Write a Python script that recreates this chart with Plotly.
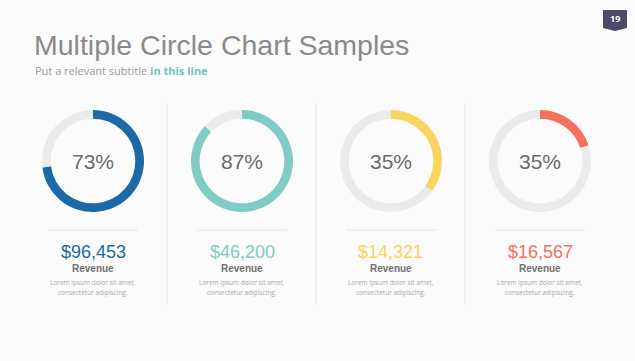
import plotly.graph_objects as go

# Data
labels_pct = ["73%", "87%", "35%", "35%"]
arc_values = [73, 87, 35, 20]
revenues = ["$96,453", "$46,200", "$14,321", "$16,567"]
sub_label = "Revenue"
lorem_lines = ["Lorem ipsum dolor sit amet,", "consectetur adipiscing."]
colors = ["#1b69a6", "#80cbc4", "#f9d45e", "#f3705f"]
track_color = "#ebebeb"

W, H = 635, 361
centers_x = [93, 242, 391, 540]
center_y = 161
R = 51


def A(x, y, text, font, xanchor="center"):
    return dict(x=x / W, y=1 - y / H, xref="paper", yref="paper", text=text,
                showarrow=False, xanchor=xanchor, yanchor="middle", font=font,
                borderpad=0)


fig = go.Figure()
ann = []
shapes = []
for i, cx in enumerate(centers_x):
    v = arc_values[i]
    fig.add_trace(go.Pie(
        values=[v, 100 - v],
        marker=dict(colors=[colors[i], track_color], line=dict(width=0)),
        hole=0.83, sort=False, direction="clockwise", rotation=0,
        textinfo="none", hoverinfo="skip", showlegend=False,
        domain=dict(x=[(cx - R) / W, (cx + R) / W],
                    y=[1 - (center_y + R) / H, 1 - (center_y - R) / H]),
    ))
    ann.append(A(cx, center_y, labels_pct[i],
                 dict(family="Liberation Sans", size=21, color="#6b6b6b")))
    ann.append(A(cx, 252, revenues[i],
                 dict(family="Liberation Sans", size=18, color=colors[i])))
    ann.append(A(cx, 268, "<b>" + sub_label + "</b>",
                 dict(family="Liberation Sans", size=10, color="#707070")))
    for j, line in enumerate(lorem_lines):
        ann.append(A(cx, 282 + 10 * j, line,
                     dict(family="Open Sans", size=6.5, color="#aaaaaa")))
    shapes.append(dict(type="line", xref="paper", yref="paper",
                       x0=(cx - 45) / W, x1=(cx + 45) / W,
                       y0=1 - 230 / H, y1=1 - 230 / H,
                       line=dict(color="#e6e6e6", width=1)))

for sx in [167, 316, 465]:
    shapes.append(dict(type="line", xref="paper", yref="paper",
                       x0=sx / W, x1=sx / W, y0=1 - 103 / H, y1=1 - 305 / H,
                       line=dict(color="#e8e8e8", width=1)))

# Badge
bx0, bx1, by0, by1 = 603, 627, 10, 28
shapes.append(dict(type="path", xref="paper", yref="paper",
                   path=f"M {bx0/W},{1-by0/H} L {bx1/W},{1-by0/H} L {bx1/W},{1-by1/H} "
                        f"L {(bx0+bx1)/2/W},{1-(by1+3)/H} L {bx0/W},{1-by1/H} Z",
                   fillcolor="#4b4a6b", line=dict(width=0)))
ann.append(A((bx0 + bx1) / 2, 19, "<b>19</b>",
             dict(family="Open Sans", size=9, color="white")))

# Title and subtitle
ann.append(A(33, 45, "Multiple Circle Chart Samples",
             dict(family="Liberation Sans", size=28.5, color="#8a8a8a"), xanchor="left"))
ann.append(A(34, 70, "Put a relevant subtitle <b><span style='color:#6dc5bc'>in this line</span></b>",
             dict(family="Open Sans", size=11, color="#9a9a9a"), xanchor="left"))

fig.update_layout(width=W, height=H, margin=dict(l=0, r=0, t=0, b=0),
                  paper_bgcolor="#fbfbfb", plot_bgcolor="#fbfbfb",
                  annotations=ann, shapes=shapes)
fig.write_html("out.html")
